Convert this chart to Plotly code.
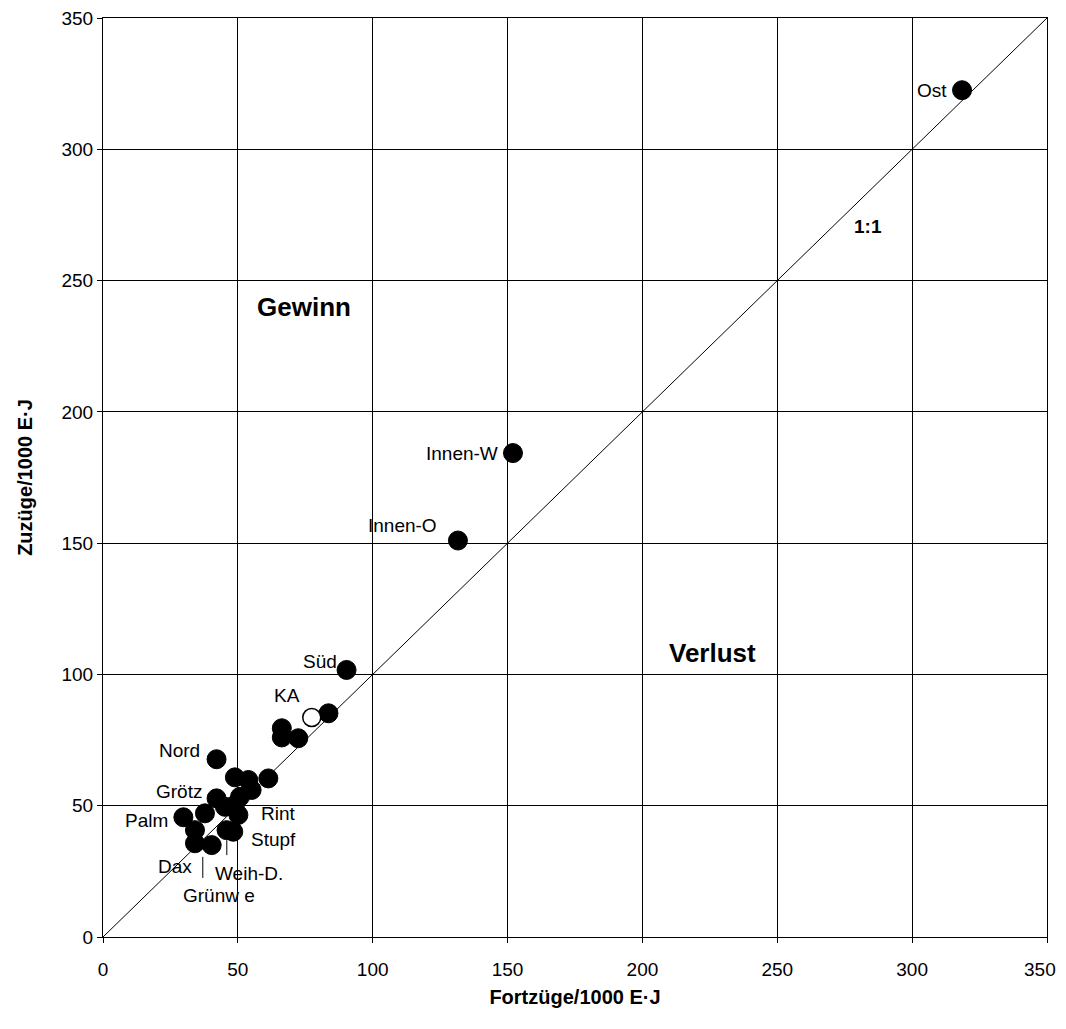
import plotly.graph_objects as go

# Filled points (Fortzüge, Zuzüge)
x_fill = [318.5, 152.0, 131.6, 90.3, 83.6, 66.3, 66.3, 72.4, 42.1, 48.9, 53.9, 61.3,
          55.1, 50.8, 42.1, 45.2, 48.9, 50.2, 37.8, 29.8, 34.1, 48.3, 45.8, 34.1, 40.3]
y_fill = [322.5, 184.3, 151.0, 101.7, 85.2, 79.5, 76.0, 75.7, 67.7, 60.8, 59.8, 60.4,
          56.0, 53.4, 52.8, 49.6, 50.3, 46.5, 47.1, 45.6, 40.7, 40.1, 40.7, 35.7, 35.0]
# Open point (KA)
x_open = [77.4]
y_open = [83.6]

# Point labels: text, x, y of the point they belong to
lab_text = ["Ost", "Innen-W", "Innen-O", "Süd", "KA", "Nord", "Grötz", "Palm",
            "Rint", "Stupf", "Dax", "Weih-D.", "Grünw e"]
lab_x = [318.5, 152.0, 131.6, 90.3, 77.4, 42.1, 42.1, 29.8, 50.2, 48.3, 34.1, 45.8, 40.3]
lab_y = [322.5, 184.3, 151.0, 101.7, 83.6, 67.7, 52.8, 45.6, 46.5, 40.1, 35.7, 40.7, 35.0]
# pixel offsets / anchors (style)
lab_off = [(-13, 0, "right"), (-13, 0, "right"), (-19, 15, "right"), (-8, 8, "right"),
           (-25, 22, "center"), (-37, 9, "center"), (-38, 7, "center"), (-37, -3, "center"),
           (40, 1, "center"), (40, -8, "center"), (-20, -23, "center"),
           (22, -43, "center"), (7, -50, "center")]

# Leader lines (x, y0, y1)
leaders = [(45.9, 36.9, 31.2), (37.0, 30.5, 22.5)]

axis_ticks = [0, 50, 100, 150, 200, 250, 300, 350]
axis_ticktext = ["0", "50", "100", "150", "200", "250", "300", "350"]

FONT = "Liberation Sans, Arial, sans-serif"

fig = go.Figure()
fig.add_shape(type="line", x0=0, y0=0, x1=350, y1=350, xref="x", yref="y",
              line=dict(color="black", width=1), layer="below")
for lx, ly0, ly1 in leaders:
    fig.add_shape(type="line", x0=lx, y0=ly0, x1=lx, y1=ly1, xref="x", yref="y",
                  line=dict(color="black", width=1))

fig.add_trace(go.Scatter(x=x_fill, y=y_fill, mode="markers",
                         marker=dict(size=19, color="black", line=dict(color="black", width=1)),
                         showlegend=False, hoverinfo="x+y"))
fig.add_trace(go.Scatter(x=x_open, y=y_open, mode="markers",
                         marker=dict(size=18, color="white", line=dict(color="black", width=1.5)),
                         showlegend=False, hoverinfo="x+y"))

for t, x, y, (dx, dy, anc) in zip(lab_text, lab_x, lab_y, lab_off):
    fig.add_annotation(x=x, y=y, text=t, showarrow=False, xanchor=anc, yanchor="middle",
                       xshift=dx, yshift=dy, font=dict(family=FONT, size=19, color="black"))

fig.add_annotation(x=74.5, y=240, text="<b>Gewinn</b>", showarrow=False,
                   font=dict(family=FONT, size=26, color="black"))
fig.add_annotation(x=226, y=108, text="<b>Verlust</b>", showarrow=False,
                   font=dict(family=FONT, size=26, color="black"))
fig.add_annotation(x=283.6, y=270.7, text="<b>1:1</b>", showarrow=False,
                   font=dict(family=FONT, size=19, color="black"))

# last x tick label drawn as annotation, nudged to stay inside the page
fig.add_annotation(x=axis_ticks[-1], y=0, xref="x", yref="paper", text=axis_ticktext[-1],
                   showarrow=False, xanchor="center", yanchor="middle", xshift=-7, yshift=-32,
                   font=dict(family=FONT, size=19, color="black"))

axis_common = dict(range=[0, 350], tickvals=axis_ticks, showgrid=True, gridcolor="black",
                   gridwidth=1, zeroline=False, showline=True, linecolor="black", linewidth=1,
                   mirror=True, ticks="outside", ticklen=5, tickcolor="black", automargin=False,
                   ticklabeloverflow="allow",
                   tickfont=dict(family=FONT, size=19, color="black"))

fig.update_xaxes(**axis_common, ticktext=axis_ticktext[:-1] + [""], ticklabelstandoff=10,
                 title=dict(text="<b>Fortzüge/1000 E·J</b>", standoff=14,
                            font=dict(family=FONT, size=20, color="black")))
fig.update_yaxes(**axis_common, ticktext=axis_ticktext,
                 title=dict(text="<b>Zuzüge/1000 E·J</b>", standoff=23,
                            font=dict(family=FONT, size=20, color="black")))

fig.update_layout(width=1058, height=1000, margin=dict(l=95, r=19, t=10, b=71),
                  plot_bgcolor="white", paper_bgcolor="white", showlegend=False)

fig.write_html("out.html")
